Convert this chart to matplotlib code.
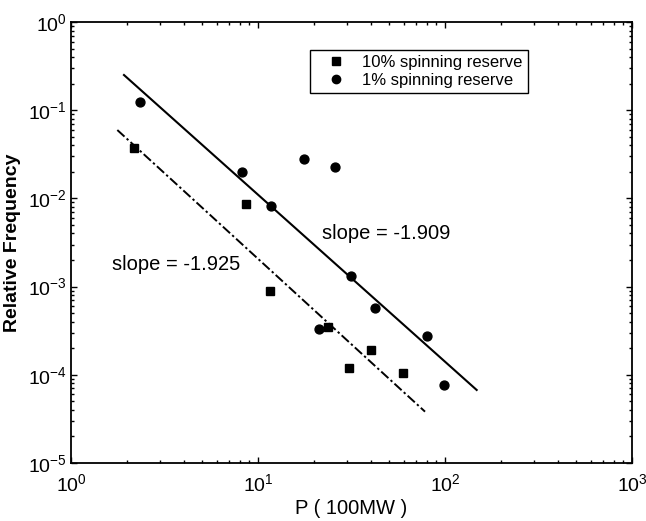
import matplotlib
matplotlib.use("Agg")
import matplotlib.pyplot as plt
from matplotlib.ticker import LogLocator, NullFormatter, LogFormatterMathtext

plt.rcParams['font.family'] = ['Liberation Sans', 'DejaVu Sans']
plt.rcParams['mathtext.fontset'] = 'custom'
plt.rcParams['mathtext.rm'] = 'Liberation Sans'
plt.rcParams['mathtext.it'] = 'Liberation Sans:italic'
plt.rcParams['mathtext.bf'] = 'Liberation Sans:bold'

# Data: 10% spinning reserve (squares)
p10 = [2.18, 8.59, 11.6, 23.8, 30.7, 40.2, 59.4]
f10 = [0.0370, 0.00857, 8.9e-4, 3.46e-4, 1.19e-4, 1.91e-4, 1.04e-4]

# Data: 1% spinning reserve (circles)
p1 = [2.34, 8.24, 11.8, 17.7, 21.2, 25.8, 31.3, 42.2, 80.4, 99.2]
f1 = [0.1248, 0.0201, 0.0082, 0.0278, 3.31e-4, 0.0229, 1.33e-3, 5.67e-4, 2.75e-4, 7.66e-5]

# Fitted lines (endpoints)
fit1_x = [1.92, 147.7]
fit1_y = [0.2506, 6.73e-5]
fit10_x = [1.769, 78.2]
fit10_y = [0.0596, 3.82e-5]

slope_labels = ["slope = -1.909", "slope = -1.925"]
legend_labels = ["10% spinning reserve", "1% spinning reserve"]

fig = plt.figure(figsize=(6.46, 5.21), dpi=100)
ax = fig.add_axes([71/646, (521-463)/521, (632-71)/646, (463-22)/521])

ax.set_xscale('log')
ax.set_yscale('log')
ax.set_xlim(1, 1000)
ax.set_ylim(1e-5, 1)

ax.plot(fit1_x, fit1_y, '-', color='black', lw=1.5)
ax.plot(fit10_x, fit10_y, color='black', lw=1.4, linestyle=(0, (5, 1.5, 1.2, 1.5)))

ax.plot(p10, f10, 's', color='black', ms=6.2, ls='none', label=legend_labels[0])
ax.plot(p1, f1, 'o', color='black', ms=6.4, ls='none', label=legend_labels[1])

ax.text(22.0, 4.05e-3, slope_labels[0], fontsize=14.5, ha='left', va='center')
ax.text(1.66, 1.76e-3, slope_labels[1], fontsize=14.5, ha='left', va='center')

leg = ax.legend(loc='upper left', bbox_to_anchor=(0.426, 0.9365), borderaxespad=0,
                frameon=True, fancybox=False, framealpha=1, edgecolor='black',
                fontsize=12, handlelength=2.5, handletextpad=0.35, borderpad=0.3,
                labelspacing=0.15, numpoints=1)
leg.get_frame().set_linewidth(1.0)
for h in leg.legend_handles:
    h.set_markersize(6)

for sp in ax.spines.values():
    sp.set_linewidth(1.3)

ax.xaxis.set_major_locator(LogLocator(base=10, numticks=10))
ax.yaxis.set_major_locator(LogLocator(base=10, numticks=10))
ax.xaxis.set_minor_locator(LogLocator(base=10, subs=range(2, 10), numticks=20))
ax.yaxis.set_minor_locator(LogLocator(base=10, subs=range(2, 10), numticks=20))
ax.xaxis.set_minor_formatter(NullFormatter())
ax.yaxis.set_minor_formatter(NullFormatter())
ax.xaxis.set_major_formatter(LogFormatterMathtext())
ax.yaxis.set_major_formatter(LogFormatterMathtext())

ax.tick_params(which='both', direction='in', top=True, right=True, width=1.0)
ax.tick_params(which='major', length=4.5, labelsize=14, pad=3)
ax.tick_params(which='minor', length=2.3)
ax.tick_params(axis='x', which='major', pad=7)

ax.set_xlabel('P ( 100MW )', fontsize=14.5, labelpad=3)
ax.set_ylabel('Relative Frequency', fontsize=14, fontweight='bold', labelpad=5)

fig.savefig('out.png', dpi=100)
